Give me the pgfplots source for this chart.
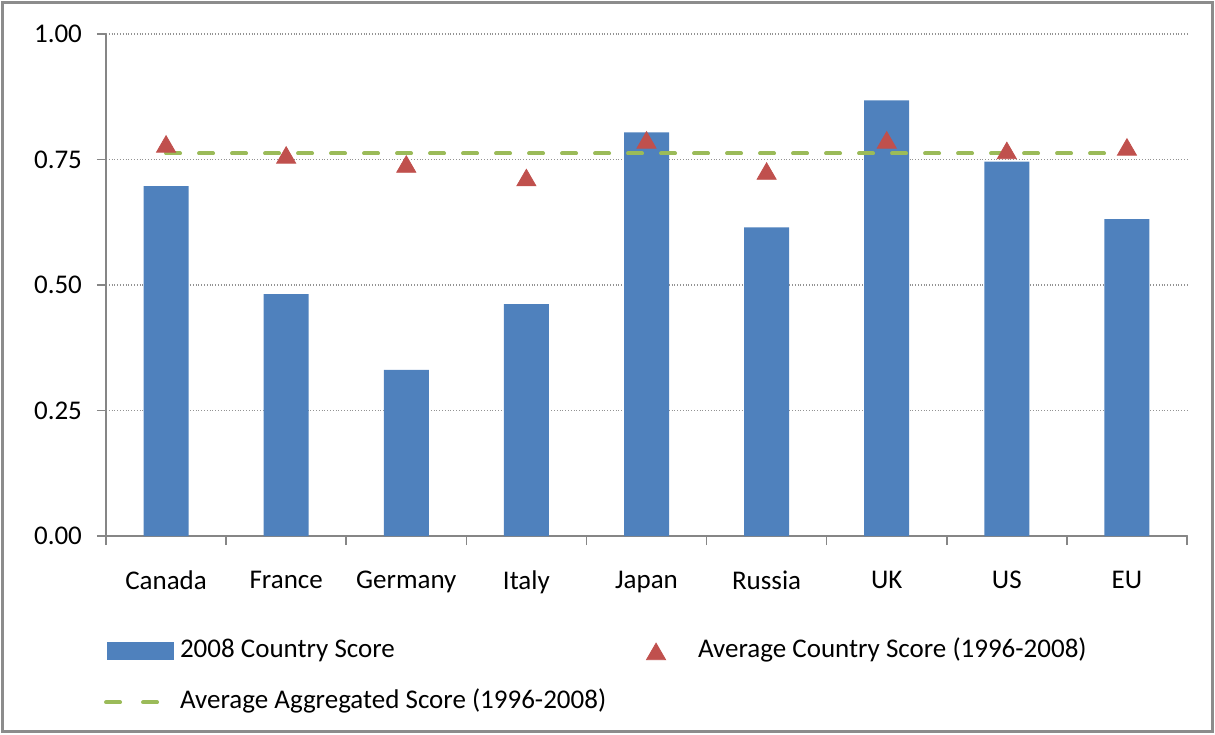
\documentclass[border=0pt]{standalone}
\usepackage{pgfplots}
\pgfplotsset{compat=1.18}
\usepackage{fontspec}
\setmainfont{Carlito}
\definecolor{barblue}{HTML}{4F81BD}
\definecolor{trired}{HTML}{C0504D}
\definecolor{lgreen}{HTML}{9BBB59}
\definecolor{axgray}{HTML}{868686}
\definecolor{framegray}{HTML}{8C8C8C}
\begin{document}
\begin{tikzpicture}
\useasboundingbox (-53pt,-99pt) rectangle (554.5pt,268pt);
\begin{axis}[
  at={(0pt,0pt)}, anchor=south west,
  scale only axis, width=540.5pt, height=251pt,
  xmin=-0.5, xmax=8.5, ymin=0, ymax=1,
  axis lines*=left,
  axis line style={axgray, line width=0.8pt},
  tick align=outside,
  major tick length=4.5pt, minor tick length=4.5pt,
  xtick={0,...,8},
  xticklabels={Canada,France,Germany,Italy,Japan,Russia,UK,US,EU},
  minor xtick={-0.5,0.5,...,8.5},
  major x tick style={draw=none},
  minor x tick style={axgray, line width=0.8pt},
  y tick style={axgray, line width=0.8pt},
  ytick={0,0.25,0.5,0.75,1},
  ymajorgrids,
  grid style={densely dotted, gray!85, line width=0.6pt},
  ticklabel style={font=\fontsize{13.5}{16}\selectfont, text=black},
  /pgf/number format/assume math mode=true,
  yticklabel style={/pgf/number format/.cd, fixed, fixed zerofill, precision=2, /tikz/.cd, xshift=-4pt},
  xticklabel style={yshift=-9.5pt},
  legend columns=2,
  legend cell align=left,
  legend style={at={(axis description cs:-0.0018,-0.203)}, anchor=north west,
    draw=none, fill=none, inner sep=0pt, outer sep=0pt,
    /tikz/column sep=0pt, /tikz/row sep=12pt,
    font=\fontsize{13.5}{16}\selectfont,
    nodes={inner sep=0pt, text height=10pt, text depth=3.5pt}},
]
\addplot[ybar, bar width=22.5pt, fill=barblue, draw=none,
  legend image code/.code={\path[draw=none,fill=none] (0pt,0pt) -- (38pt,0pt); \fill[barblue] (1.5pt,-4.5pt) rectangle (35pt,4.5pt);}]
  coordinates {(0,0.697) (1,0.482) (2,0.331) (3,0.462) (4,0.804) (5,0.615) (6,0.868) (7,0.746) (8,0.631)};
\addlegendentry{\makebox[220pt][l]{2008 Country Score}}
\addplot[only marks, mark=triangle*, mark size=5.5pt, color=trired, mark options={yshift=-1.375pt},
  legend image code/.code={\path[draw=none,fill=none] (0pt,0pt) -- (39pt,0pt); \path[trired, mark=triangle*, mark size=5.5pt, mark options={yshift=-1.375pt}] plot[only marks] coordinates {(18pt,0pt)};}]
  coordinates {(0,0.781) (1,0.759) (2,0.741) (3,0.714) (4,0.789) (5,0.727) (6,0.789) (7,0.768) (8,0.775)};
\addlegendentry{Average Country Score (1996-2008)}
\addplot[lgreen, line width=2pt, line cap=round, dash pattern=on 7pt off 9.5pt,
  legend image code/.code={\path[draw=none,fill=none] (0pt,0pt) -- (38pt,0pt); \draw[lgreen, line width=2pt, line cap=round, dash pattern=on 7pt off 11.5pt] (1pt,0pt) -- (28pt,0pt);}]
  coordinates {(0,0.762) (1,0.762) (2,0.762) (3,0.762) (4,0.762) (5,0.762) (6,0.762) (7,0.762) (8,0.762)};
\addlegendentry{\makebox[220pt][l]{Average Aggregated Score (1996-2008)}}
\end{axis}
\draw[framegray, line width=1.5pt] (-51.5pt,-97.5pt) rectangle (553pt,266.5pt);
\end{tikzpicture}
\end{document}
